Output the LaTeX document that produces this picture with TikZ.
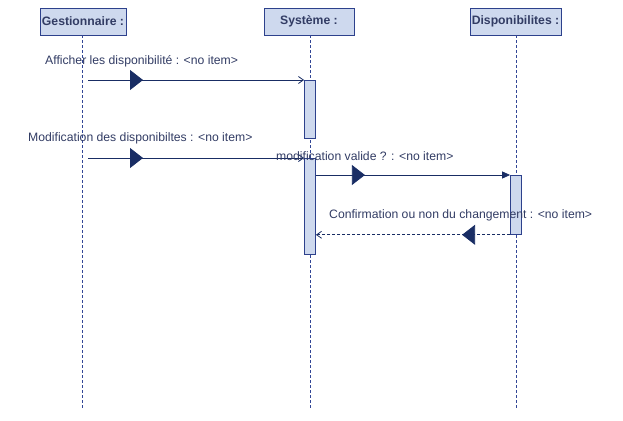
\documentclass[tikz,border=0pt]{standalone}
\usepackage{fontspec}
\setmainfont{Liberation Sans}
\usetikzlibrary{
		arrows.meta,
		decorations.markings,
		positioning
	}
\definecolor{seqline}{RGB}{25,45,100}
\definecolor{seqborder}{RGB}{45,65,140}
\definecolor{seqfill}{RGB}{206,217,238}
\definecolor{seqdash}{RGB}{50,70,150}
\definecolor{seqtext}{RGB}{50,60,100}
\tikzset{
		>={Straight Barb[length=5pt,width=7pt]},
		actor/.style={draw=seqborder, fill=seqfill, text=seqtext, line width=0.8pt,
			font=\bfseries\fontsize{12.2}{14}\selectfont, minimum height=27pt, inner sep=0pt},
		lifeline/.style={seqdash, line width=0.9pt, dash pattern=on 3pt off 2pt},
		activation/.style={draw=seqborder, fill=seqfill, line width=0.8pt,
			minimum width=11pt, inner sep=0pt, anchor=north},
		msglabel/.style={text=seqtext, font=\fontsize{12.2}{14}\selectfont, inner sep=0pt, anchor=west},
		msg/.style={seqline, line width=0.8pt, decoration={markings,
			mark=at position #1 with {\arrow{Triangle[length=13pt,width=20pt]}}},
			postaction={decorate}},
		msg/.default=55pt
	}
\begin{document}
\begin{tikzpicture}[x=1pt,y=-1pt]
          \useasboundingbox (0,0) rectangle (623,420);

          % objects
          \node[actor, minimum width=86pt] (gest) at (83,21.5) {Gestionnaire :};
          \node[actor, minimum width=90pt] (sys) at (309,21.5) {Système :};
          \node[actor, minimum width=91pt] (dispo) at (515.5,21.5) {Disponibilites :};

          \coordinate (gestEnd) at (82,410);
          \coordinate (sysEnd) at (310,410);
          \coordinate (dispoEnd) at (516,410);

          \draw[lifeline] (gest.south -| gestEnd) -- (gestEnd);
          \draw[lifeline] (sys.south -| sysEnd) -- (sysEnd);
          \draw[lifeline] (dispo.south -| dispoEnd) -- (dispoEnd);

          % activations
          \node[activation, minimum height=58pt] (act1) at (310,80) {};
          \node[activation, minimum height=96pt] (act2) at (310,158) {};
          \node[activation, minimum height=59pt] (act3) at (516,175) {};

          % messages
          \coordinate (g1) at (88,80);
          \coordinate (g2) at (88,158);

          \draw[msg, ->] (g1) -- (act1.north west);
          \node[msglabel] (l1) at (45,61) {Afficher les disponibilité : <no item>};

          \draw[msg, ->] (g2) -- (act2.north west);
          \node[msglabel] (l2) at (28,138) {Modification des disponibiltes : <no item>};

          \draw[msg=49pt, -{Triangle[length=8pt,width=7pt]}] (act2.east |- act3.north) -- (act3.north west);
          \node[msglabel] (l3) at (276,156) {modification valide ? : <no item>};

          \draw[msg=48pt, ->, dash pattern=on 3pt off 2pt] (act3.south west) -- (act2.east |- act3.south);
          \node[msglabel] (l4) at (329,215) {Confirmation ou non du changement : <no item>};

\end{tikzpicture}
\end{document}
